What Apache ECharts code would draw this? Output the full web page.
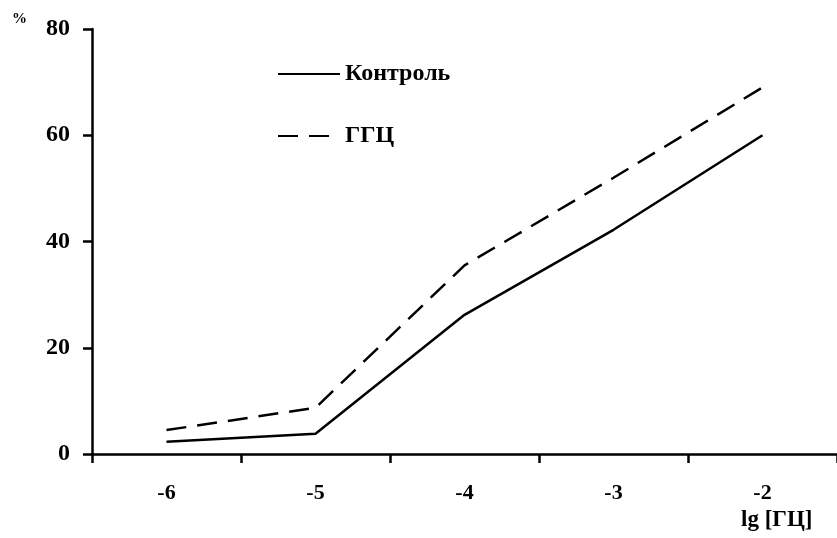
<!DOCTYPE html>
<html>
<head>
<meta charset="utf-8">
<script src="https://cdn.jsdelivr.net/npm/echarts@6/dist/echarts.min.js"></script>
<style>
  html, body { margin: 0; padding: 0; background: #fff; }
  #chart { width: 837px; height: 538px; }
</style>
</head>
<body>
<div id="chart"></div>
<script>
// lg concentration categories and response (%) for each group
const categories = ['-6', '-5', '-4', '-3', '-2'];
const controlValues = [2.3, 3.8, 26.2, 42.2, 60.0];
const ggcValues = [4.5, 8.7, 35.5, 52.0, 69.0];
const yTicks = [0, 20, 40, 60, 80];

const FONT = '"Liberation Serif", "Times New Roman", serif';
const chart = echarts.init(document.getElementById('chart'));

chart.setOption({
  animation: false,
  backgroundColor: '#ffffff',
  textStyle: { fontFamily: FONT },
  grid: { left: 92, top: 29, width: 753, height: 425, containLabel: false },
  legend: {
    orient: 'vertical',
    left: 272,
    top: 57,
    itemWidth: 62,
    itemHeight: 14,
    itemGap: 38,
    itemStyle: { opacity: 0 },
    textStyle: { fontFamily: FONT, fontSize: 24, fontWeight: 'bold', color: '#000' },
    data: ['Контроль', 'ГГЦ']
  },
  xAxis: {
    type: 'category',
    data: categories,
    boundaryGap: true,
    axisLine: { lineStyle: { color: '#000', width: 2.5 } },
    axisTick: { show: true, inside: false, length: 9, lineStyle: { color: '#000', width: 2.5 } },
    axisLabel: { margin: 28, color: '#000', fontFamily: FONT, fontSize: 22, fontWeight: 'bold' },
    splitLine: { show: false }
  },
  yAxis: {
    type: 'value',
    min: yTicks[0],
    max: yTicks[yTicks.length - 1],
    interval: yTicks[1] - yTicks[0],
    axisLine: { show: true, lineStyle: { color: '#000', width: 2.5 } },
    axisTick: { show: true, length: 9, lineStyle: { color: '#000', width: 2.5 } },
    axisLabel: { margin: 22, color: '#000', fontFamily: FONT, fontSize: 24, fontWeight: 'bold' },
    splitLine: { show: false }
  },
  series: [
    {
      name: 'Контроль',
      type: 'line',
      data: controlValues,
      symbol: 'none',
      lineStyle: { color: '#000', width: 2.5, type: 'solid' },
      itemStyle: { color: '#000' }
    },
    {
      name: 'ГГЦ',
      type: 'line',
      data: ggcValues,
      symbol: 'none',
      lineStyle: { color: '#000', width: 2.5, type: [20, 11] },
      itemStyle: { color: '#000' }
    }
  ],
  graphic: [
    {
      type: 'text',
      left: 12,
      top: 12,
      style: { text: '%', fontFamily: FONT, fontSize: 15, fontWeight: 'bold', fill: '#000' }
    },
    {
      type: 'text',
      left: 741,
      top: 509,
      style: { text: 'lg [ГЦ]', fontFamily: FONT, fontSize: 23, fontWeight: 'bold', fill: '#000' }
    }
  ]
});
</script>
</body>
</html>
